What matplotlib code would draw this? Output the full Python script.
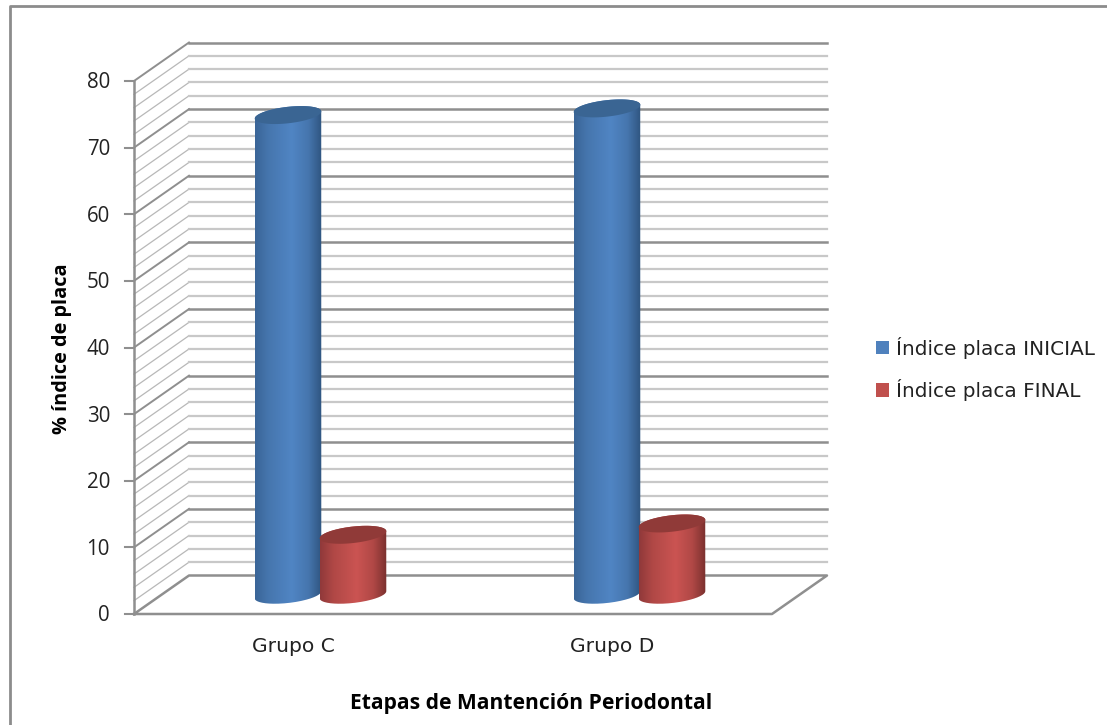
import matplotlib
matplotlib.use("Agg")
import matplotlib.pyplot as plt
import numpy as np
from matplotlib.colors import LinearSegmentedColormap
from matplotlib.lines import Line2D
from matplotlib.patches import Patch, PathPatch, Polygon
from matplotlib.path import Path

# Datos
grupos = ["Grupo C", "Grupo D"]
indice_inicial = [72, 73]
indice_final = [9, 10.7]
series_nombres = ["Índice placa INICIAL", "Índice placa FINAL"]
y_ticks = [0, 10, 20, 30, 40, 50, 60, 70, 80]
y_minor = [v for v in range(0, 81, 2) if v % 10 != 0]

W, H = 1107, 725
plt.rcParams["font.family"] = ["Open Sans", "DejaVu Sans"]

fig = plt.figure(figsize=(W / 100, H / 100), dpi=100, facecolor="white")

# Plano frontal de la caja 3D, en pixeles de la figura
x0, x1 = 134, 772
y0, y80 = 614, 81
ax = fig.add_axes([x0 / W, 1 - y0 / H, (x1 - x0) / W, (y0 - y80) / H])
ax.set_xlim(0, 2)
ax.set_ylim(0, 80)
ax.axis("off")

# Escala pixel -> datos
sx = (x1 - x0) / 2
sy = (y0 - y80) / 80
dx = 55 / sx    # profundidad de la caja
dy = 38.5 / sy

MAJOR = "#8f8f8f"
MINOR = "#c8c8c8"

# Lineas de pared lateral y fondo
for v in y_minor:
    ax.plot([0, dx], [v, v + dy], color="#b8b8b8", lw=0.9, clip_on=False, zorder=1)
    ax.plot([dx, 2 + dx], [v + dy, v + dy], color=MINOR, lw=1.6, clip_on=False, zorder=1)
for v in y_ticks:
    ax.plot([-9 / sx, 0], [v, v], color=MAJOR, lw=1.5, clip_on=False, zorder=2)
    ax.text(-24 / sx, v - 0.3, str(v), ha="right", va="center", fontsize=14.8, color="#222222")
    if v > 0:
        ax.plot([0, dx], [v, v + dy], color=MAJOR, lw=1.4, clip_on=False, zorder=2)
        ax.plot([dx, 2 + dx], [v + dy, v + dy], color=MAJOR, lw=1.8, clip_on=False, zorder=2)

# Piso y eje
ax.plot([0, dx, 2 + dx, 2, 0], [0, dy, dy, 0, 0], color=MAJOR, lw=1.8, clip_on=False, zorder=3)
ax.plot([0, 0], [0, 80], color=MAJOR, lw=1.8, clip_on=False, zorder=3)


def cilindro(xc, valor, colores, tapa, zorder):
    # Elipse inclinada, calculada en pixeles y pasada a datos
    a, b, ang = 33.5, 8.2, np.radians(6.5)
    t = np.linspace(0, 2 * np.pi, 181)[:-1]
    ex = (a * np.cos(t) * np.cos(ang) - b * np.sin(t) * np.sin(ang)) / sx
    ey = (a * np.cos(t) * np.sin(ang) + b * np.sin(t) * np.cos(ang)) / sy
    base = dy / 2
    top = base + valor

    i_der, i_izq = np.argmax(ex), np.argmin(ex)
    idx = np.roll(np.arange(len(t)), -i_izq)
    k = list(idx).index(i_der)
    bajo = idx[:k + 1]    # de izquierda a derecha por la parte baja
    alto = idx[k:]        # de derecha a izquierda por la parte alta

    xs = np.r_[xc + ex[bajo], xc + ex[alto]]
    ys = np.r_[base + ey[bajo], top + ey[alto]]
    cuerpo = Path(np.c_[xs, ys])

    izq, medio, claro, der = colores
    cmap = LinearSegmentedColormap.from_list(
        "cil", [(0, izq), (0.2, medio), (0.55, claro), (0.8, medio), (1, der)]
    )
    grad = np.linspace(0, 1, 128).reshape(1, -1)
    ancho = ex.max()
    alto_e = ey.max()
    im = ax.imshow(grad, cmap=cmap, aspect="auto", zorder=zorder,
                   extent=[xc - ancho, xc + ancho, base - alto_e * 1.5, top + alto_e * 1.5])
    parche = PathPatch(cuerpo, transform=ax.transData, facecolor="none", edgecolor="none")
    ax.add_patch(parche)
    im.set_clip_path(parche)
    # Tapa superior
    ax.add_patch(Polygon(np.c_[xc + ex, top + ey], closed=True, facecolor=tapa,
                         edgecolor="none", zorder=zorder + 0.1, clip_on=False))


AZUL = ("#3a6597", "#4676ae", "#5085c4", "#2f5580")
ROJO = ("#90393a", "#b04846", "#cb5452", "#7a302e")

for i in range(len(grupos)):
    cat = i + 0.5 + dx / 2
    cilindro(cat - 33 / sx, indice_inicial[i], AZUL, "#3a6593", 5 + i)
    cilindro(cat + 32 / sx, indice_final[i], ROJO, "#903a38", 5.5 + i)
    ax.text(i + 0.5, -33 / sy, grupos[i], ha="center", va="center", fontsize=14.6,
            family="DejaVu Sans", color="#222222")

ax.set_xlim(0, 2)
ax.set_ylim(0, 80)

# Titulos de ejes
fig.text(531.5 / W, 1 - 704 / H, "Etapas de Mantención Periodontal", ha="center", va="center",
         fontsize=15.1, fontweight="bold", color="black")
fig.text(62 / W, 1 - 349 / H, "% índice de placa", rotation=90, ha="center", va="center",
         fontsize=14.3, fontweight="bold", color="black")

# Leyenda
handles = [Patch(facecolor="#4f81bd"), Patch(facecolor="#c0504d")]
fig.legend(handles, series_nombres, loc="center left", bbox_to_anchor=(858 / W, 1 - 369 / H), frameon=False,
           handlelength=0.65, handleheight=0.65, handletextpad=0.35, labelspacing=1.02,
           labelcolor="#222222", prop={"family": "DejaVu Sans", "size": 14.4})

# Marco del objeto, abierto por abajo y a la derecha
fig.add_artist(Line2D([10 / W, 10 / W, 1107 / W], [0, 1 - 6 / H, 1 - 6 / H], color="#8c8c8c", lw=2,
                      transform=fig.transFigure))

fig.savefig("out.png", dpi=100)
